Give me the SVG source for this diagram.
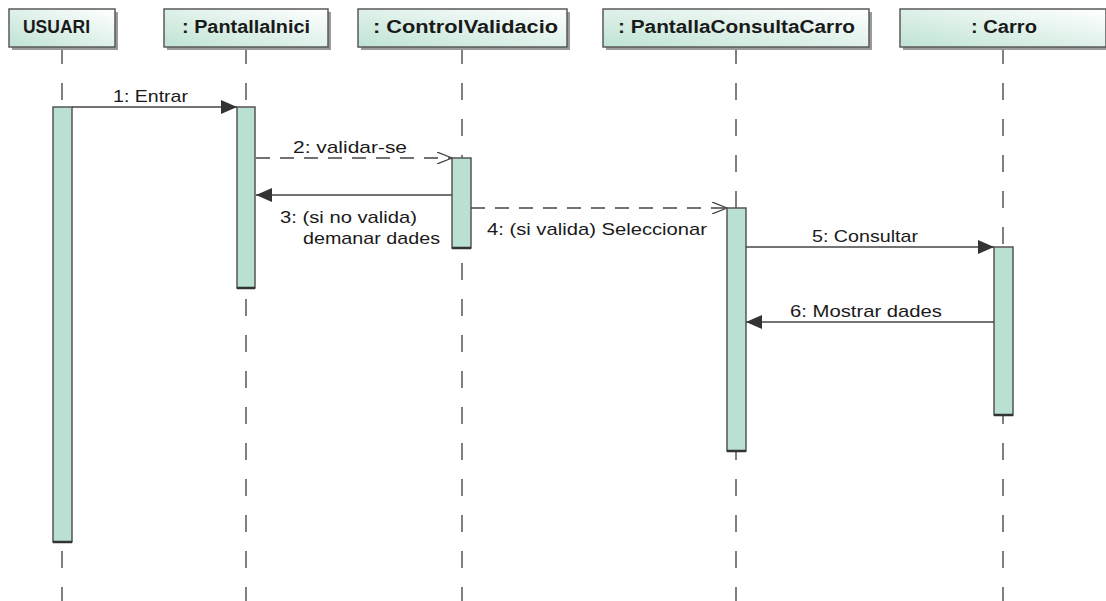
<svg xmlns="http://www.w3.org/2000/svg" width="1106" height="601" viewBox="0 0 1106 601">
<style>
.hdr{fill:url(#hg);stroke:#5a5a5a;stroke-width:1.5}
.shd{fill:#9a9a9a}
.ht{font-family:"Liberation Sans",Arial,sans-serif;font-weight:bold;font-size:18px;fill:#1a1a1a}
.life{stroke:#555;stroke-width:1.5;stroke-dasharray:17 19;fill:none}
.act{fill:#b9e0d0;stroke:#555;stroke-width:1.5}
.actb{stroke:#333;stroke-width:2.5}
.msg{stroke:#444;stroke-width:1.3;fill:none}
.dash{stroke-dasharray:14 10}
.lbl{font-family:"Liberation Sans",Arial,sans-serif;font-size:17px;fill:#1a1a1a}
</style>
<defs>
<linearGradient id="hg" x1="0" y1="1" x2="1" y2="0">
<stop offset="0" stop-color="#bfe3d4"/>
<stop offset="1" stop-color="#ffffff"/>
</linearGradient>
<marker id="fa" markerWidth="17" markerHeight="14" refX="16" refY="7" orient="auto" markerUnits="userSpaceOnUse">
<path d="M0,0 L16,7 L0,14 Z" fill="#333"/>
</marker>
<marker id="oa" markerWidth="16" markerHeight="12" refX="15" refY="6" orient="auto" markerUnits="userSpaceOnUse">
<path d="M0,0 L15,6 L0,12" fill="none" stroke="#444" stroke-width="1.3"/>
</marker>
</defs>
<rect width="1106" height="601" fill="#ffffff"/>

<g id="lifelines">
<line class="life" x1="62" y1="47" x2="62" y2="601"/>
<line class="life" x1="246" y1="47" x2="246" y2="601"/>
<line class="life" x1="462" y1="47" x2="462" y2="601"/>
<line class="life" x1="736" y1="47" x2="736" y2="601"/>
<line class="life" x1="1003" y1="47" x2="1003" y2="601"/>
</g>

<g id="usuari">
<rect class="shd" x="12" y="12" width="106" height="38"/>
<rect class="hdr" x="9" y="9" width="106" height="38"/>
<text class="ht" x="23" y="33" textLength="67" lengthAdjust="spacingAndGlyphs">USUARI</text>
<rect class="act" x="53" y="107" width="19" height="435"/>
<line class="actb" x1="53" y1="542" x2="72" y2="542"/>
</g>

<g id="pantallaInici">
<rect class="shd" x="167" y="12" width="164" height="38"/>
<rect class="hdr" x="164" y="9" width="164" height="38"/>
<text class="ht" x="182" y="33" textLength="128" lengthAdjust="spacingAndGlyphs">: PantallaInici</text>
<rect class="act" x="237" y="107" width="18" height="181"/>
<line class="actb" x1="237" y1="288" x2="255" y2="288"/>
</g>

<g id="controlValidacio">
<rect class="shd" x="361" y="12" width="209" height="38"/>
<rect class="hdr" x="358" y="9" width="209" height="38"/>
<text class="ht" x="373" y="33" textLength="185" lengthAdjust="spacingAndGlyphs">: ControlValidacio</text>
<rect class="act" x="452" y="158" width="19" height="90"/>
<line class="actb" x1="452" y1="248" x2="471" y2="248"/>
</g>

<g id="pantallaConsultaCarro">
<rect class="shd" x="606" y="12" width="266" height="38"/>
<rect class="hdr" x="603" y="9" width="266" height="38"/>
<text class="ht" x="618" y="33" textLength="237" lengthAdjust="spacingAndGlyphs">: PantallaConsultaCarro</text>
<rect class="act" x="727" y="208" width="19" height="243"/>
<line class="actb" x1="727" y1="451" x2="746" y2="451"/>
</g>

<g id="carro">
<rect class="shd" x="903" y="12" width="206" height="38"/>
<rect class="hdr" x="900" y="9" width="206" height="38"/>
<text class="ht" x="971" y="33" textLength="66" lengthAdjust="spacingAndGlyphs">: Carro</text>
<rect class="act" x="994" y="247" width="19" height="168"/>
<line class="actb" x1="994" y1="415" x2="1013" y2="415"/>
</g>

<g id="connectors">
<line class="msg" x1="72" y1="107" x2="237" y2="107" marker-end="url(#fa)"/>
<text class="lbl" x="113" y="102" textLength="75" lengthAdjust="spacingAndGlyphs">1: Entrar</text>

<line class="msg dash" x1="256" y1="158" x2="452" y2="158" marker-end="url(#oa)"/>
<text class="lbl" x="293" y="153" textLength="114" lengthAdjust="spacingAndGlyphs">2: validar-se</text>

<line class="msg" x1="452" y1="195" x2="256" y2="195" marker-end="url(#fa)"/>
<text class="lbl" x="280" y="223" textLength="137" lengthAdjust="spacingAndGlyphs">3: (si no valida)</text>
<text class="lbl" x="303" y="244" textLength="137" lengthAdjust="spacingAndGlyphs">demanar dades</text>

<line class="msg dash" x1="471" y1="208" x2="727" y2="208" marker-end="url(#oa)"/>
<text class="lbl" x="487" y="235" textLength="220" lengthAdjust="spacingAndGlyphs">4: (si valida) Seleccionar</text>

<line class="msg" x1="746" y1="247" x2="994" y2="247" marker-end="url(#fa)"/>
<text class="lbl" x="812" y="242" textLength="106" lengthAdjust="spacingAndGlyphs">5: Consultar</text>

<line class="msg" x1="994" y1="322" x2="746" y2="322" marker-end="url(#fa)"/>
<text class="lbl" x="790" y="317" textLength="152" lengthAdjust="spacingAndGlyphs">6: Mostrar dades</text>
</g>
</svg>
